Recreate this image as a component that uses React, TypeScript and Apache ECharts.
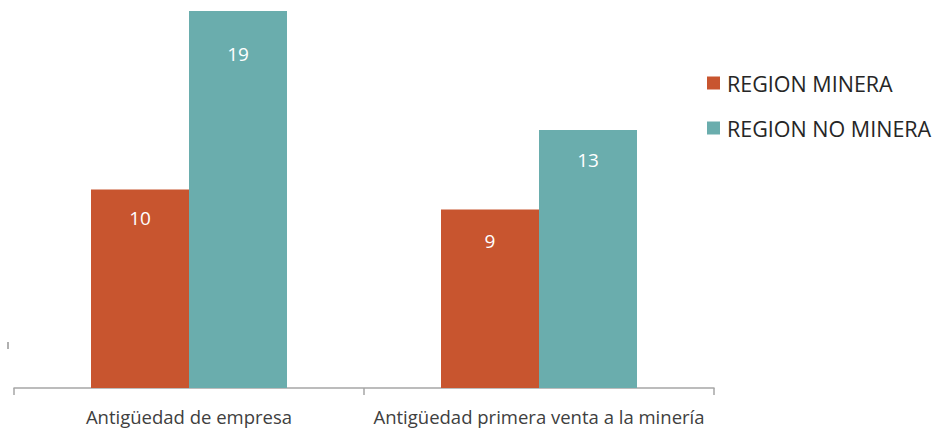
import React, { useEffect, useRef } from "react";
import * as echarts from "echarts";

const categories = ["Antigüedad de empresa", "Antigüedad primera venta a la minería"];
const seriesNames = ["REGION MINERA", "REGION NO MINERA"];
const mineraValues = [10, 9];
const noMineraValues = [19, 13];

const ORANGE = "#C8552F";
const TEAL = "#6AADAD";
const FONT = "'Open Sans', 'Noto Sans', sans-serif";

// gap between each bar's top edge and its value label, per series and category
const LABEL_GAPS = [
  [19, 22],
  [33, 20],
];

export default function App() {
  const ref = useRef<HTMLDivElement>(null);

  useEffect(() => {
    if (!ref.current) return;
    const chart = echarts.init(ref.current, undefined, { renderer: "svg" });

    const barLabel = {
      show: true,
      position: "insideTop" as const,
      color: "#ffffff",
      fontSize: 19,
      fontFamily: FONT,
    };

    const toItems = (values: number[], s: number) =>
      values.map((v, i) => ({ value: v, label: { distance: LABEL_GAPS[s][i] } }));

    chart.setOption({
      animation: false,
      backgroundColor: "#ffffff",
      grid: { left: 14, right: 223, top: 11, bottom: 42 },
      legend: {
        orient: "vertical",
        left: 707,
        top: 72,
        padding: 0,
        itemWidth: 13,
        itemHeight: 13,
        itemGap: 23,
        icon: "rect",
        textStyle: {
          fontSize: 21.5,
          color: "#262626",
          fontFamily: FONT,
          padding: [0, 0, 0, 2],
        },
        data: seriesNames,
      },
      xAxis: {
        type: "category",
        data: categories,
        axisLine: { show: true, lineStyle: { color: "#A6A6A6", width: 1.5 } },
        axisTick: { show: true, length: 7, lineStyle: { color: "#A6A6A6", width: 1.5 } },
        axisLabel: {
          interval: 0,
          color: "#404040",
          fontSize: 18.5,
          fontFamily: FONT,
          margin: 19,
        },
      },
      yAxis: {
        type: "value",
        min: 0,
        max: 19,
        show: false,
        splitLine: { show: false },
      },
      graphic: [
        {
          type: "line",
          shape: { x1: 8, y1: 342, x2: 8, y2: 349 },
          style: { stroke: "#B0B0B0", lineWidth: 2 },
        },
      ],
      series: [
        {
          name: seriesNames[0],
          type: "bar",
          data: toItems(mineraValues, 0),
          barWidth: 98,
          barGap: "0%",
          itemStyle: { color: ORANGE },
          label: barLabel,
        },
        {
          name: seriesNames[1],
          type: "bar",
          data: toItems(noMineraValues, 1),
          barWidth: 98,
          barGap: "0%",
          itemStyle: { color: TEAL },
          label: barLabel,
        },
      ],
    });

    return () => chart.dispose();
  }, []);

  return (
    <div
      ref={ref}
      style={{ position: "fixed", left: 0, top: 0, width: 937, height: 430 }}
    />
  );
}
